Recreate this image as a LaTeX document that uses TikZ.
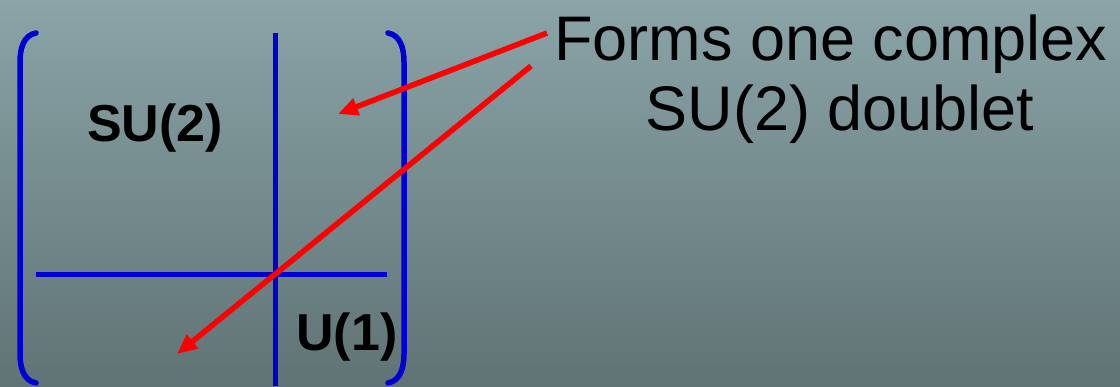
\documentclass[tikz,border=0pt]{standalone}
\usepackage{fontspec}
\setmainfont{Liberation Sans}
\usetikzlibrary{arrows.meta}
\definecolor{bgtop}{RGB}{138,164,167}
\definecolor{bgbot}{RGB}{96,115,117}
\definecolor{mblue}{RGB}{0,0,210}
\definecolor{mred}{RGB}{255,0,0}
\tikzset{
  bracketline/.style={draw=mblue, line width=5.5pt, line cap=round},
  gridline/.style={draw=mblue, line width=5pt},
  redarrow/.style={draw=mred, line width=5.5pt, -{Triangle[length=20pt,width=17pt]}},
  grouplabel/.style={font=\fontsize{52}{60}\selectfont\bfseries, inner sep=0pt},
  notelabel/.style={font=\fontsize{63}{70}\selectfont, inner sep=0pt, align=center},
}
\begin{document}
\begin{tikzpicture}[x=1pt,y=-1pt]
\shade[top color=bgtop, bottom color=bgbot] (0,0) rectangle (1120,386);
\useasboundingbox (0,0) rectangle (1120,386);
% brackets
\draw[bracketline] (36,33) to[out=190,in=90] (20,62) -- (20,354) to[out=-90,in=170] (36,383);
\draw[bracketline] (388,33) to[out=-10,in=90] (404,62) -- (404,354) to[out=-90,in=10] (388,383);
% grid lines
\coordinate (vtop) at (275,33);
\coordinate (vbot) at (275,386);
\coordinate (hl) at (36,274);
\coordinate (hr) at (387,274);
\draw[gridline] (vtop) -- (vbot);
\draw[gridline] (hl) -- (hr);
% labels
\node[grouplabel] (su2) at (155,128) {SU(2)};
\node[grouplabel] (u1) at (347,337) {U(1)};
\node[notelabel, anchor=base] (note1) at (831,60) {Forms one complex};
\node[notelabel, anchor=base] (note2) at (840,130) {SU(2) doublet};
% arrows
\coordinate (a1s) at (547,33);
\coordinate (a1e) at (338,114);
\coordinate (a2s) at (531,66);
\coordinate (a2e) at (177,354);
\draw[redarrow] (a1s) -- (a1e);
\draw[redarrow] (a2s) -- (a2e);
\end{tikzpicture}
\end{document}
